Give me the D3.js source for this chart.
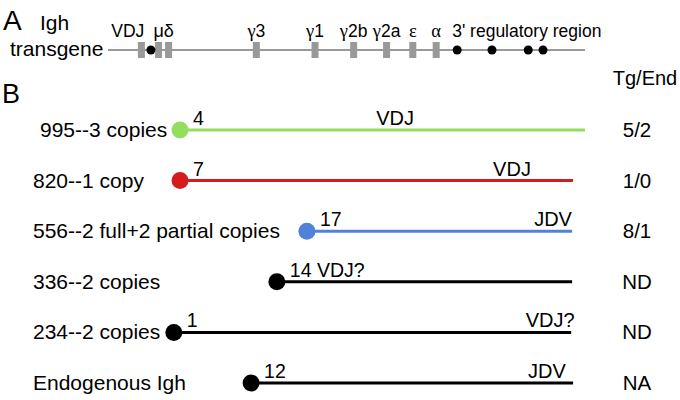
<!DOCTYPE html>
<html><head><meta charset="utf-8">
<script src="https://cdn.jsdelivr.net/npm/d3@7"></script>
<style>body{margin:0;background:#fff}svg{display:block}text{font-family:"Liberation Sans",Arial,sans-serif;fill:#000}</style>
</head><body><svg id="c" width="680" height="400"></svg>
<script>
// Panel A: transgene map (positions in locus units 0-100)
const geneNames = ["VDJ", "μ", "δ", "γ3", "γ1", "γ2b", "γ2a", "ε", "α"];
const genePos = [7.0, 10.6, 12.7, 31.1, 43.4, 51.5, 58.4, 63.9, 68.8];
const enhancerPos = [9.0, 73.2, 80.5, 88.1, 91.2];
// Panel B: integration rows
const rowLabels = ["995--3 copies", "820--1 copy", "556--2 full+2 partial copies", "336--2 copies", "234--2 copies", "Endogenous Igh"];
const rowStart = [15.1, 15.1, 41.7, 35.4, 13.8, 30.0];
const rowEnd = [100, 97.5, 97.3, 97.3, 97.1, 97.5];
const rowNumber = ["4", "7", "17", "14 VDJ?", "1", "12"];
const rowOrient = ["VDJ", "VDJ", "JDV", "", "VDJ?", "JDV"];
const rowOrientPos = [60.2, 84.7, 93.3, null, 92.7, 92.0];
const rowRatio = ["5/2", "1/0", "8/1", "ND", "ND", "NA"];
const rowColor = ["#93de5f", "#d41c1c", "#4f82d8", "#000", "#000", "#000"];

const svg = d3.select("#c");
const x = d3.scaleLinear().domain([0, 100]).range([108, 585]);
const y = d3.scalePoint().domain(d3.range(rowLabels.length)).range([130, 383]);
const greek = "Liberation Serif, DejaVu Serif, serif";

// Panel labels
svg.append("text").attr("x", 3).attr("y", 30).attr("font-size", 28).text("A");
svg.append("text").attr("x", 2).attr("y", 103).attr("font-size", 27).text("B");
svg.append("text").attr("x", 40).attr("y", 30).attr("font-size", 21).text("Igh");
svg.append("text").attr("x", 10).attr("y", 56).attr("font-size", 21).text("transgene");

// Locus line
const lineY = 50;
svg.append("line").attr("x1", x(0)).attr("x2", x(100)).attr("y1", lineY).attr("y2", lineY)
  .attr("stroke", "#999").attr("stroke-width", 2);
svg.selectAll("rect.gene").data(genePos).join("rect").attr("class", "gene")
  .attr("x", d => x(d) - 3.5).attr("y", lineY - 8).attr("width", 7).attr("height", 16)
  .attr("fill", "#999");
svg.selectAll("circle.enh").data(enhancerPos).join("circle").attr("class", "enh")
  .attr("cx", d => x(d)).attr("cy", lineY).attr("r", 4.5).attr("fill", "#000");

// Gene labels
const labY = 37;
svg.append("text").attr("x", x(genePos[0]) + 3).attr("y", labY).attr("font-size", 17.5)
  .attr("text-anchor", "end").text(geneNames[0]);
svg.append("text").attr("x", (x(genePos[1]) + x(genePos[2])) / 2).attr("y", labY)
  .attr("font-size", 18).attr("text-anchor", "middle").attr("font-family", greek)
  .text(geneNames[1] + geneNames[2]);
svg.selectAll("text.gl").data(genePos.slice(3)).join("text").attr("class", "gl")
  .attr("x", d => x(d)).attr("y", labY).attr("font-size", 17.5).attr("text-anchor", "middle")
  .each(function(d, i) {
    const name = geneNames[i + 3];
    const t = d3.select(this);
    t.append("tspan").attr("font-family", greek).attr("font-size", 18.5).text(name[0]);
    if (name.length > 1) t.append("tspan").text(name.slice(1));
  });
svg.append("text").attr("x", x(enhancerPos[1]) - 5).attr("y", labY).attr("font-size", 17.5)
  .text("3' regulatory region");

// Panel B header
svg.append("text").attr("x", 645).attr("y", 85).attr("font-size", 20)
  .attr("text-anchor", "middle").text("Tg/End");

const rows = svg.selectAll("g.row").data(rowLabels).join("g").attr("class", "row");
rows.append("text").attr("x", (d, i) => i === 0 ? 40 : 33).attr("y", (d, i) => y(i) + 7)
  .attr("font-size", 21).text(d => d);
rows.append("line").attr("x1", (d, i) => x(rowStart[i])).attr("x2", (d, i) => x(rowEnd[i]))
  .attr("y1", (d, i) => y(i)).attr("y2", (d, i) => y(i))
  .attr("stroke", (d, i) => rowColor[i]).attr("stroke-width", 3);
rows.append("circle").attr("cx", (d, i) => x(rowStart[i])).attr("cy", (d, i) => y(i))
  .attr("r", 8.5).attr("fill", (d, i) => rowColor[i]);
rows.append("text").attr("x", (d, i) => x(rowStart[i]) + 13).attr("y", (d, i) => y(i) - 5)
  .attr("font-size", 19.5).text((d, i) => rowNumber[i]);
rows.append("text").attr("x", (d, i) => rowOrientPos[i] == null ? 0 : x(rowOrientPos[i]))
  .attr("y", (d, i) => y(i) - 5).attr("font-size", 20).attr("text-anchor", "middle")
  .text((d, i) => rowOrient[i]);
rows.append("text").attr("x", 637).attr("y", (d, i) => y(i) + 7).attr("font-size", 20.5)
  .attr("text-anchor", "middle").text((d, i) => rowRatio[i]);
</script></body></html>
